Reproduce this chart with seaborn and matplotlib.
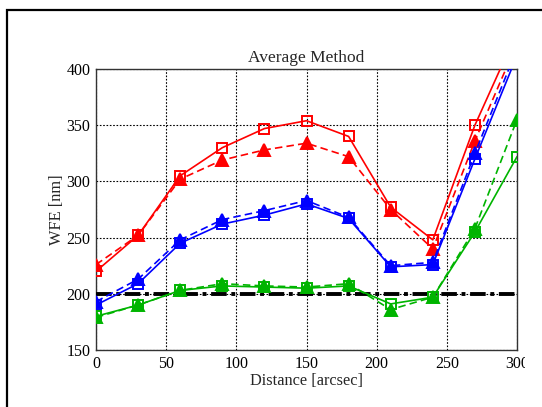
import matplotlib
matplotlib.use("Agg")
import matplotlib.pyplot as plt
import seaborn as sns
import pandas as pd
from matplotlib.patches import Rectangle
from matplotlib.transforms import Bbox

distance = [0, 30, 60, 90, 120, 150, 180, 210, 240, 270, 300]
red_solid = [220, 252, 305, 330, 347, 354, 340, 277, 248, 350, 433]
red_dashed = [226, 252, 302, 319, 328, 334, 322, 275, 240, 336, 423]
blue_solid = [190, 209, 245, 262, 270, 280, 267, 224, 226, 320, 412]
blue_dashed = [193, 213, 248, 266, 274, 283, 268, 225, 228, 325, 418]
green_solid = [180, 190, 203, 207, 206, 205, 207, 191, 197, 255, 322]
green_dashed = [179, 190, 203, 209, 207, 206, 209, 186, 197, 258, 355]
reference_level = [200] * len(distance)

xticks = [0, 50, 100, 150, 200, 250, 300]
yticks = [150, 200, 250, 300, 350, 400]

sns.set_style("white")
plt.rcParams['font.family'] = ['Liberation Serif', 'DejaVu Serif']

fig = plt.figure(figsize=(5.42, 4.07), dpi=100)
ax = fig.add_axes([96/542, 1-350/407, (517-96)/542, (350-69)/407])

RED, BLUE, GREEN = '#ff0000', '#0000ff', '#00b400'

df = pd.DataFrame({'d': distance, 'ref': reference_level})
sns.lineplot(x='d', y='ref', data=df, ax=ax, color='black', linewidth=2.8,
             linestyle=(0, (4, 1.2, 1, 1.2)), zorder=5)

series = [
    (red_solid, RED, '-', 's', 'none', 7.5),
    (red_dashed, RED, (0, (4.5, 2.5)), '^', RED, 9),
    (blue_solid, BLUE, '-', 's', 'none', 7.5),
    (blue_dashed, BLUE, (0, (4.5, 2.5)), '^', BLUE, 9),
    (green_solid, GREEN, '-', 's', 'none', 7.5),
    (green_dashed, GREEN, (0, (4.5, 2.5)), '^', GREEN, 9),
]
for vals, col, ls, mk, mfc, ms in series:
    d = pd.DataFrame({'d': distance, 'v': vals})
    sns.lineplot(x='d', y='v', data=d, ax=ax, color=col, linestyle=ls,
                 linewidth=1.2, marker=mk, markersize=ms,
                 markerfacecolor=mfc, markeredgecolor=col,
                 markeredgewidth=1.4, zorder=6, clip_on=True)

ax.set_xlim(0, 300)
ax.set_ylim(150, 400)
ax.set_xticks(xticks)
ax.set_yticks(yticks)
ax.set_xticklabels([str(t) for t in xticks])
ax.set_yticklabels([str(t) for t in yticks])
ax.grid(True, color='black', linestyle=(0, (1.5, 1.5)), linewidth=0.8)
ax.tick_params(direction='in', length=4, labelsize=11.5, pad=4, colors='black')
for s in ax.spines.values():
    s.set_color('#333333')
    s.set_linewidth(1.0)
    s.set_visible(True)

ax.set_title('Average Method', fontsize=12.5, pad=5)
ax.set_xlabel('Distance [arcsec]', fontsize=11.8, labelpad=1)
ax.set_ylabel('WFE [nm]', fontsize=11.8, labelpad=1)

fig.patches.append(Rectangle((7/542, -0.2), 1.3, 1.2 - 10/407,
                             transform=fig.transFigure, fill=False,
                             edgecolor='black', linewidth=1.6, clip_on=False))

fig.canvas.draw()
clip = Bbox.from_extents(0, 0, 525, 407)
for lab in ax.get_xticklabels():
    lab.set_clip_box(clip)
    lab.set_clip_on(True)

fig.savefig('out.png', dpi=100)
